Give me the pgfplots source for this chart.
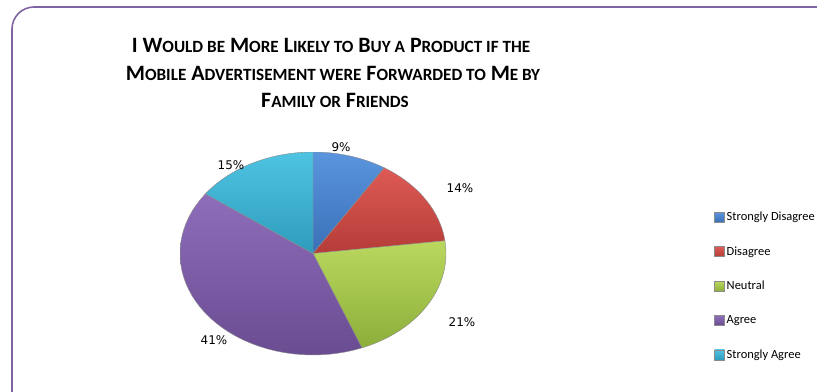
\documentclass[border=0pt]{standalone}
\usepackage{pgfplots}
\pgfplotsset{compat=1.18}
\usepackage{fontspec}
\setmainfont{Carlito}
\newfontfamily\lab{DejaVu Sans}
\definecolor{frame}{HTML}{8064A2}
\definecolor{sdisT}{HTML}{5A95DE}\definecolor{sdisB}{HTML}{3A70B8}
\definecolor{disT}{HTML}{DE5A55}\definecolor{disB}{HTML}{B53C38}
\definecolor{neuT}{HTML}{BAD85E}\definecolor{neuB}{HTML}{8CAE3A}
\definecolor{agrT}{HTML}{8E6DBA}\definecolor{agrB}{HTML}{6A4C92}
\definecolor{sagT}{HTML}{4FC3E2}\definecolor{sagB}{HTML}{2D9CBD}
\newcommand\SC[1]{{\fontsize{17.2}{17.2}\selectfont #1}}
\begin{document}
\begin{tikzpicture}[x=1bp,y=1bp]
\useasboundingbox (0,0) rectangle (817,391);
\draw[frame, line width=1.6bp, rounded corners=22bp] (12,384) rectangle (845,-25);
\node[font=\bfseries\fontsize{22}{22}\selectfont, inner sep=0pt] at (331,346) {I W\SC{OULD BE} M\SC{ORE} L\SC{IKELY TO} B\SC{UY A} P\SC{RODUCT IF THE}};
\node[font=\bfseries\fontsize{22}{22}\selectfont, inner sep=0pt] at (333,318) {M\SC{OBILE} A\SC{DVERTISEMENT WERE} F\SC{ORWARDED TO} M\SC{E BY}};
\node[font=\bfseries\fontsize{22}{22}\selectfont, inner sep=0pt] at (335,291) {F\SC{AMILY OR} F\SC{RIENDS}};
\begin{axis}[at={(180bp,36bp)}, anchor=south west, scale only axis,
  width=266bp, height=203bp, hide axis,
  xmin=-1, xmax=1, ymin=-1, ymax=1,
  legend style={at={(2.008,0.34)}, anchor=west, draw=none, fill=none,
    font=\fontsize{12.5}{12.5}\selectfont, row sep=20.5bp, inner sep=0pt},
  legend cell align=left,
  legend image code/.code={\path[#1] (0bp,-5bp) rectangle (10bp,5bp);},
  every axis plot/.append style={draw=black!45, line width=0.4bp, samples=40, variable=\t}]
% percentages: 9, 14, 21, 41, 15 (clockwise from 12 o'clock)
\addplot[top color=sdisT, bottom color=sdisB, domain={90-3.6*9}:{90}] ({cos(\t)},{sin(\t)}) -- (axis cs:0,0) -- cycle;
\addlegendentry{Strongly Disagree}
\addplot[top color=disT, bottom color=disB, domain={90-3.6*(9+14)}:{90-3.6*9}] ({cos(\t)},{sin(\t)}) -- (axis cs:0,0) -- cycle;
\addlegendentry{Disagree}
\addplot[top color=neuT, bottom color=neuB, domain={90-3.6*(23+21)}:{90-3.6*23}] ({cos(\t)},{sin(\t)}) -- (axis cs:0,0) -- cycle;
\addlegendentry{Neutral}
\addplot[top color=agrT, bottom color=agrB, domain={90-3.6*(44+41)}:{90-3.6*44}] ({cos(\t)},{sin(\t)}) -- (axis cs:0,0) -- cycle;
\addlegendentry{Agree}
\addplot[top color=sagT, bottom color=sagB, domain={90-3.6*(85+15)}:{90-3.6*85}] ({cos(\t)},{sin(\t)}) -- (axis cs:0,0) -- cycle;
\addlegendentry{Strongly Agree}
\end{axis}
\begin{scope}[every node/.style={font=\lab\fontsize{12}{12}\selectfont}]
\node at (341,244) {9\%};
\node at (460,203) {14\%};
\node at (462,69) {21\%};
\node at (214,51) {41\%};
\node at (231,226) {15\%};
\end{scope}
\end{tikzpicture}
\end{document}
